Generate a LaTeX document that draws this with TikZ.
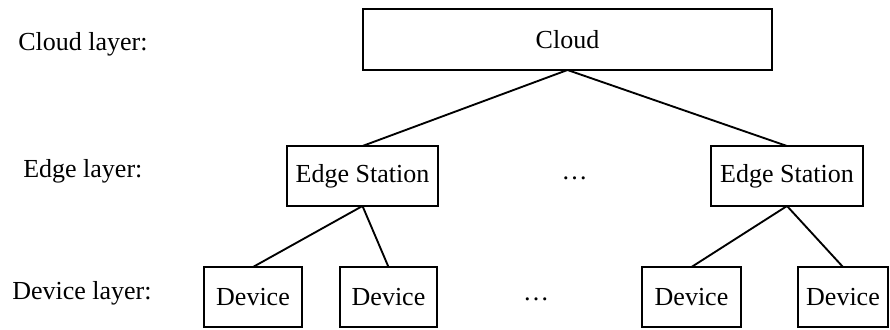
\documentclass[tikz,border=0pt]{standalone}
\usepackage{fontspec}
\setmainfont{Liberation Serif}
\usepackage{tikz}

\tikzset{
  box/.style={draw, line width=1.4pt, inner sep=0.75pt, outer sep=0pt, minimum height=45pt},
  link/.style={line width=1.4pt},
}

\begin{document}
\begin{tikzpicture}[x=0.75pt,y=0.75pt,yscale=-1,xscale=1,font=\fontsize{19.5}{23}\selectfont]
    \useasboundingbox (0,0) rectangle (890,329);

    %Shape: Rectangle [id:cloud]
    \node [box, minimum width=306.75pt, minimum height=45.75pt] (cloud) at (567.5,39.5) {Cloud};
    %Shape: Rectangle [id:edgeA]
    \node [box, minimum width=113.25pt] (edgeA) at (362.5,176) {Edge Station};
    %Shape: Rectangle [id:edgeB]
    \node [box, minimum width=114pt] (edgeB) at (787,176) {Edge Station};
    %Shape: Rectangle [id:devA]
    \node [box, minimum width=73.5pt] (devA) at (253,297) {Device};
    %Shape: Rectangle [id:devB]
    \node [box, minimum width=72.75pt] (devB) at (388.5,297) {Device};
    %Shape: Rectangle [id:devC]
    \node [box, minimum width=74.25pt] (devC) at (691.5,297) {Device};
    %Shape: Rectangle [id:devD]
    \node [box, minimum width=67.5pt] (devD) at (843,297) {Device};

    %Straight Lines
    \draw [link] (cloud.south) -- (edgeA.north);
    \draw [link] (cloud.south) -- (edgeB.north);
    \draw [link] (edgeA.south) -- (devA.north);
    \draw [link] (edgeA.south) -- (devB.north);
    \draw [link] (edgeB.south) -- (devC.north);
    \draw [link] (edgeB.south) -- (devD.north);

    % Text Node
    \node [anchor=base west, inner sep=0pt] (cloudlayer) at (18,50) {Cloud layer:};
    % Text Node
    \node [anchor=base west, inner sep=0pt] (edgelayer) at (23,177) {Edge layer:};
    % Text Node
    \node [anchor=base west, inner sep=0pt] (devlayer) at (12,299) {Device layer:};
    % Text Node
    \node [anchor=base, inner sep=0pt] (edgedots) at (574.5,179) {\ldots};
    % Text Node
    \node [anchor=base, inner sep=0pt] (devdots) at (536,300) {\ldots};

\end{tikzpicture}
\end{document}
